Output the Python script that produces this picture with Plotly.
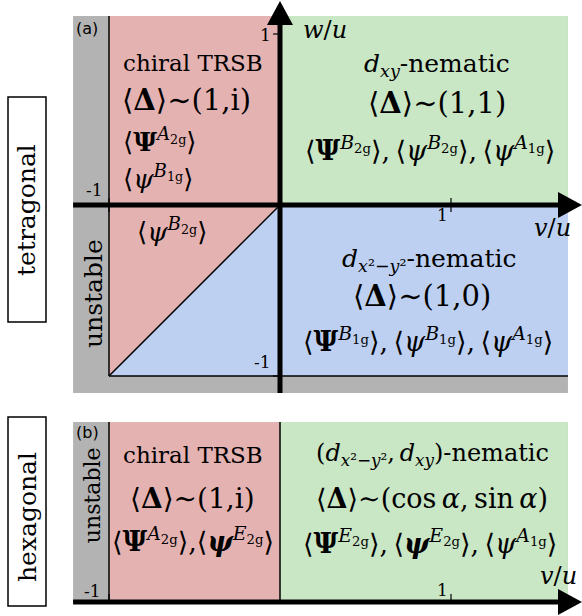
import plotly.graph_objects as go

# ---------------- data (parameter space: v/u horizontal, w/u vertical) ----------------
v_extent = [-1.21, 1.684]          # visible range of v/u in both panels
w_extent_tet = [-1.099, 1.105]     # visible range of w/u in the tetragonal panel
w_extent_hex = [0.0, 1.053]        # band height of the hexagonal panel
stab = -1.0                        # stability boundary v/u = -1 (and w/u = -1)
tick_vals = [-1, 1]
tick_text = ["-1", "1"]

# tetragonal phase polygons
tet_chiral_v = [stab, 0, 0, stab, stab]
tet_chiral_w = [stab, 0, w_extent_tet[1], w_extent_tet[1], stab]
tet_dxy_v = [0, v_extent[1], v_extent[1], 0, 0]
tet_dxy_w = [0, 0, w_extent_tet[1], w_extent_tet[1], 0]
tet_dx2_v = [stab, v_extent[1], v_extent[1], 0, stab]
tet_dx2_w = [stab, stab, 0, 0, stab]

# hexagonal phase intervals along v/u
hex_chiral_v = [stab, 0]
hex_nematic_v = [0, v_extent[1]]

C_GRAY = "#B3B3B3"
C_RED = "#E5B2B2"
C_GREEN = "#C9E6C5"
C_BLUE = "#BED0F2"

W, H = 582, 616
S = 171.0  # px per unit
X0 = 280.0
xr = [-X0 / S, (W - X0) / S]
ya_dom = [1 - 400 / H, 1.0]
ya_rng = [-(400 - 205) / S, 205 / S]
yb_dom = [0.0, 1 - 406 / H]
yb_rng = [-(616 - 602) / S, (602 - 406) / S]

fig = go.Figure()


def poly(xs, ys, color, xa="x", ya="y"):
    fig.add_trace(go.Scatter(x=xs, y=ys, fill="toself", fillcolor=color, mode="lines",
                             line=dict(width=0, color=color), hoverinfo="skip",
                             xaxis=xa, yaxis=ya, showlegend=False))


def line(xs, ys, width, xa="x", ya="y"):
    fig.add_trace(go.Scatter(x=xs, y=ys, mode="lines", line=dict(width=width, color="black"),
                             hoverinfo="skip", xaxis=xa, yaxis=ya, showlegend=False))


def rect(x0, x1, y0, y1):
    return [x0, x1, x1, x0, x0], [y0, y0, y1, y1, y0]


# ---- panel (a) tetragonal ----
gx, gy = rect(v_extent[0], v_extent[1], w_extent_tet[0], w_extent_tet[1])
poly(gx, gy, C_GRAY)
poly(tet_chiral_v, tet_chiral_w, C_RED)
poly(tet_dxy_v, tet_dxy_w, C_GREEN)
poly(tet_dx2_v, tet_dx2_w, C_BLUE)
line([stab, stab], [stab, w_extent_tet[1]], 1.5)
line([stab, v_extent[1]], [stab, stab], 1.5)
line([stab, 0], [stab, 0], 1.5)

ah_len = 24 / S
ah_half = 13 / S
tip_x = xr[1]
tip_y = 204 / S
for t in tick_vals:
    line([t, t], [-7 / S, 7 / S], 1.2)
    line([-7 / S, 0], [t, t], 1.2)
line([v_extent[0], tip_x - ah_len + 0.01], [0, 0], 5)
line([0, 0], [w_extent_tet[0], tip_y - ah_len + 0.01], 5)
poly([tip_x - ah_len, tip_x, tip_x - ah_len, tip_x - ah_len], [ah_half, 0, -ah_half, ah_half], "black")
poly([-ah_half, 0, ah_half, -ah_half], [tip_y - ah_len, tip_y, tip_y - ah_len, tip_y - ah_len], "black")

# ---- panel (b) hexagonal ----
gx, gy = rect(v_extent[0], v_extent[1], w_extent_hex[0], w_extent_hex[1])
poly(gx, gy, C_GRAY, "x2", "y2")
rx, ry = rect(hex_chiral_v[0], hex_chiral_v[1], w_extent_hex[0], w_extent_hex[1])
poly(rx, ry, C_RED, "x2", "y2")
nx, ny = rect(hex_nematic_v[0], hex_nematic_v[1], w_extent_hex[0], w_extent_hex[1])
poly(nx, ny, C_GREEN, "x2", "y2")
line([stab, stab], w_extent_hex, 1.5, "x2", "y2")
line([0, 0], w_extent_hex, 1.5, "x2", "y2")
for t in tick_vals:
    line([t, t], [0, 8 / S], 1.2, "x2", "y2")
line([v_extent[0], tip_x - ah_len + 0.01], [0, 0], 5, "x2", "y2")
poly([tip_x - ah_len, tip_x, tip_x - ah_len, tip_x - ah_len], [ah_half, 0, -ah_half, ah_half], "black", "x2", "y2")

SERIF = "DejaVu Serif, Liberation Serif, serif"
anns = []


def ann(x, y, text, size=22, xa="x", ya="y", xanchor="center", angle=0, family=SERIF):
    anns.append(dict(x=x, y=y, xref=xa, yref=ya, text=text, showarrow=False,
                     xanchor=xanchor, yanchor="middle", textangle=angle,
                     font=dict(family=family, size=size, color="black")))


L = "⟨"
R = "⟩"
DELTA = L + "<b>Δ</b>" + R + "∼"


def sup(base, rep):
    return L + base + "<sup><i>" + rep[0] + "</i><sub>" + rep[1:] + "</sub></sup>" + R


PSI_B = "<b>Ψ</b>"
psi = "<i>ψ</i>"
psi_b = "<b><i>ψ</i></b>"
TS = "\u2009"

# panel a text
ann(-1.129, 1.035, "(a)", 16, family="DejaVu Sans")
ann(-0.509, 0.83, "chiral TRSB", 23)
ann(-0.544, 0.614, DELTA + "(1,i)", 29)
ann(-0.93, 0.38, sup(PSI_B, "A2g"), 26, xanchor="left")
ann(-0.93, 0.164, sup(psi, "B1g"), 26, xanchor="left")
ann(-0.85, -0.146, sup(psi, "B2g"), 26, xanchor="left")
ann(0.263, 1.023, "<i>w</i>/<i>u</i>", 24)
ann(0.918, 0.819, "<i>d</i><sub><i>xy</i></sub>-nematic", 25)
ann(0.918, 0.596, DELTA + "(1,1)", 29)
ann(0.877, 0.333, sup(PSI_B, "B2g") + "," + TS + sup(psi, "B2g") + "," + TS + sup(psi, "A1g"), 27)
ann(1.591, -0.135, "<i>v</i>/<i>u</i>", 24)
ann(0.953, -0.058, "1", 17)
ann(0.871, -0.322, "<i>d</i><sub><i>x</i>²−<i>y</i>²</sub>-nematic", 25)
ann(0.83, -0.532, DELTA + "(1,0)", 29)
ann(0.865, -0.789, sup(PSI_B, "B1g") + "," + TS + sup(psi, "B1g") + "," + TS + sup(psi, "A1g"), 27)
ann(-1.094, -0.515, "unstable", 25, angle=-90)
ann(-1.082, 0.088, "-1", 17)
ann(-0.082, 0.994, "1", 17)
ann(-0.105, -0.918, "-1", 17)

# panel b text
ann(-1.123, 0.994, "(b)", 16, "x2", "y2", family="DejaVu Sans")
ann(-1.099, 0.625, "unstable", 22, "x2", "y2", angle=-90)
ann(-1.099, 0.064, "-1", 17, "x2", "y2")
ann(-0.509, 0.86, "chiral TRSB", 23, "x2", "y2")
ann(-0.509, 0.608, DELTA + "(1,i)", 28, "x2", "y2")
ann(-0.509, 0.363, sup(PSI_B, "A2g") + "," + sup(psi_b, "E2g"), 27, "x2", "y2")
ann(0.889, 0.86, "(<i>d</i><sub><i>x</i>²−<i>y</i>²</sub>," + TS + "<i>d</i><sub><i>xy</i></sub>)-nematic", 24, "x2", "y2")
ann(0.889, 0.608, DELTA + "(cos" + TS + "<i>α</i>," + TS + "sin" + TS + "<i>α</i>)", 27, "x2", "y2")
ann(0.877, 0.351, sup(PSI_B, "E2g") + "," + TS + sup(psi_b, "E2g") + "," + TS + sup(psi, "A1g"), 27, "x2", "y2")
ann(1.626, 0.152, "<i>v</i>/<i>u</i>", 24, "x2", "y2")
ann(0.953, 0.07, "1", 17, "x2", "y2")

# side labels
shapes = [
    dict(type="rect", xref="paper", yref="paper", x0=8 / W, x1=46 / W, y0=1 - 322 / H, y1=1 - 97 / H,
         line=dict(color="black", width=1.5), fillcolor="white"),
    dict(type="rect", xref="paper", yref="paper", x0=8 / W, x1=46 / W, y0=1 - 606 / H, y1=1 - 417 / H,
         line=dict(color="black", width=1.5), fillcolor="white"),
]
for label, yc in (("tetragonal", 210), ("hexagonal", 517)):
    anns.append(dict(x=27 / W, y=1 - yc / H, xref="paper", yref="paper", text=label, showarrow=False,
                     xanchor="center", yanchor="middle", textangle=-90,
                     font=dict(family=SERIF, size=25, color="black")))

ax_common = dict(visible=False, fixedrange=True, showgrid=False, zeroline=False)
fig.update_layout(
    width=W, height=H, margin=dict(l=0, r=0, t=0, b=0),
    paper_bgcolor="white", plot_bgcolor="rgba(0,0,0,0)",
    xaxis=dict(range=xr, domain=[0, 1], anchor="y", **ax_common),
    yaxis=dict(range=ya_rng, domain=ya_dom, anchor="x", **ax_common),
    xaxis2=dict(range=xr, domain=[0, 1], anchor="y2", **ax_common),
    yaxis2=dict(range=yb_rng, domain=yb_dom, anchor="x2", **ax_common),
    annotations=anns, shapes=shapes, showlegend=False,
)
fig.write_html("out.html", config={"displayModeBar": False},
               post_script="document.body.style.margin='0';document.body.style.overflow='hidden';")
